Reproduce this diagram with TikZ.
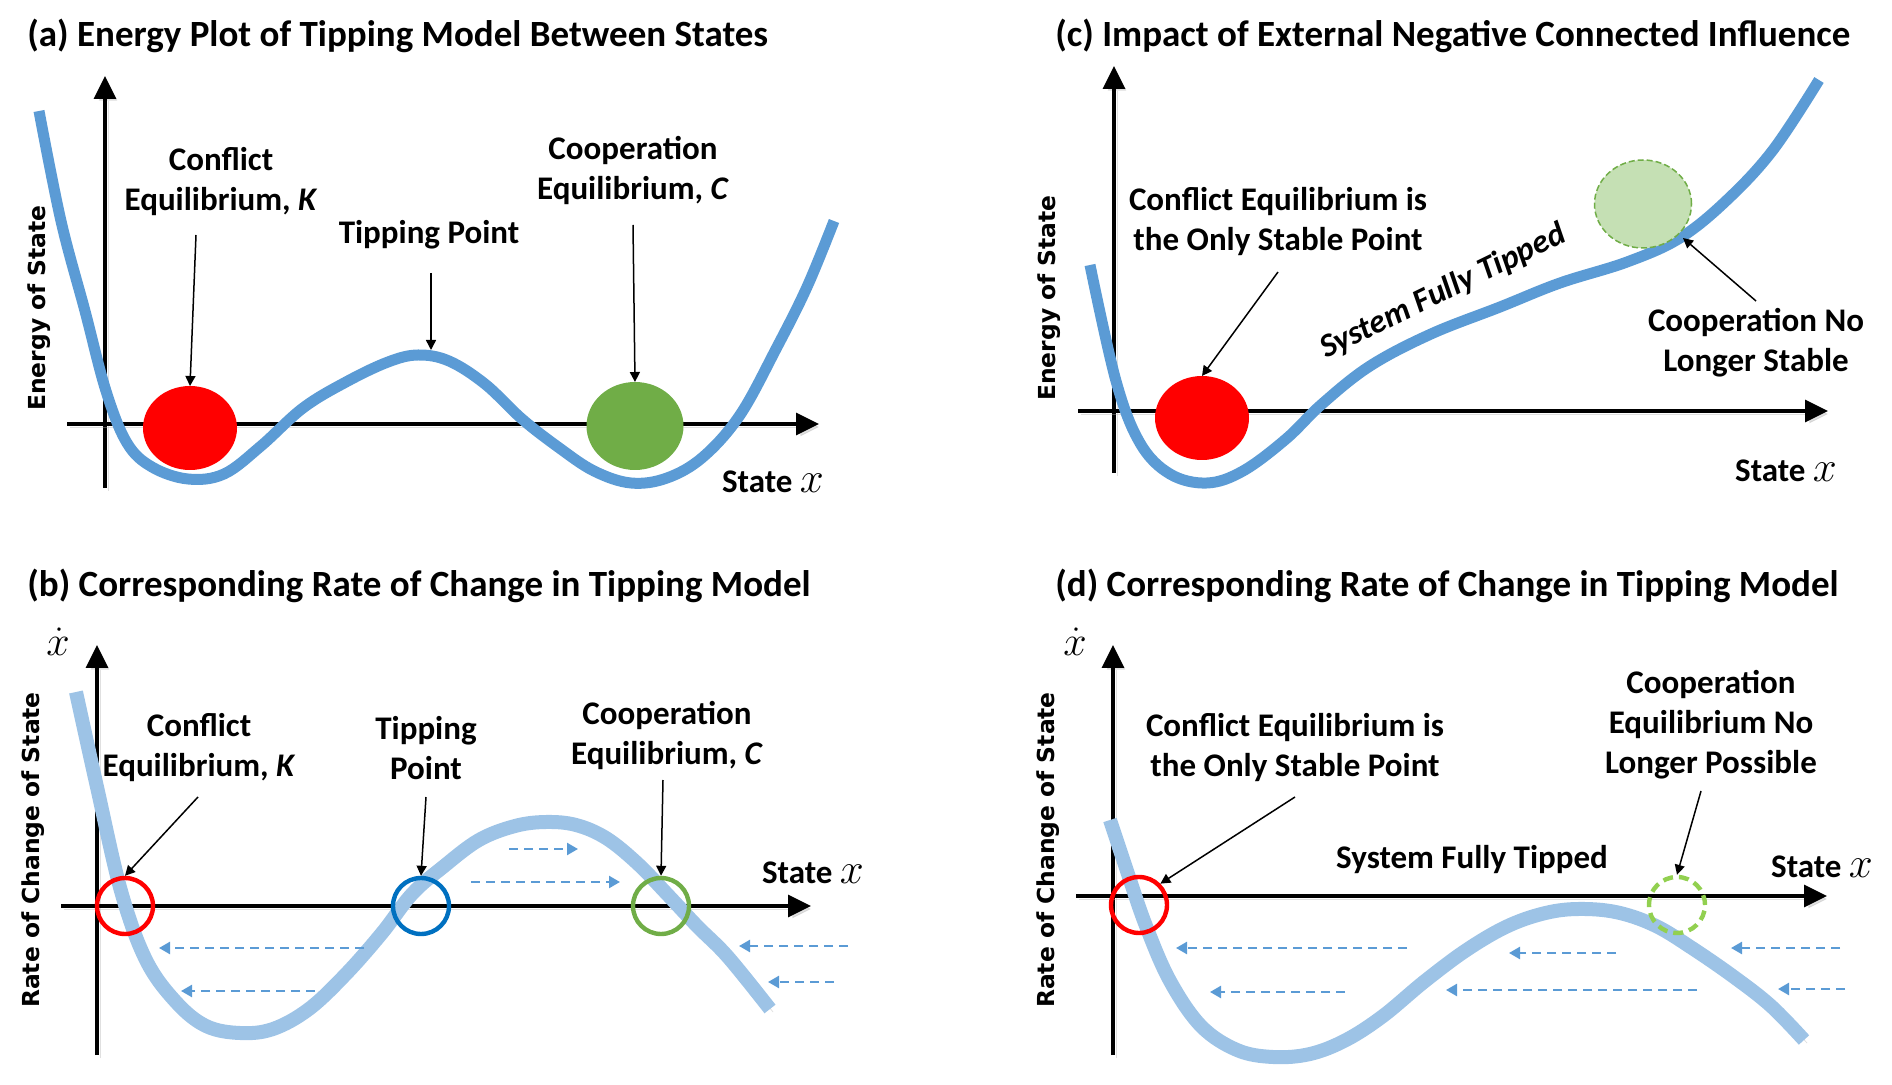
\documentclass[tikz,border=0pt]{standalone}
\usepackage{fix-cm}
\usepackage{fontspec}
\setmainfont{Carlito}
\newfontfamily\axfont{DejaVu Sans}
\usetikzlibrary{arrows.meta,shapes.geometric}

\definecolor{curveblue}{HTML}{5B9BD5}
\definecolor{paleblue}{HTML}{9DC3E6}
\definecolor{ringblue}{HTML}{0070C0}
\definecolor{leafgreen}{HTML}{70AD47}
\definecolor{limegreen}{HTML}{92D050}
\definecolor{palegreen}{HTML}{C5E0B4}

\newcommand{\statex}{{\fontsize{21.5}{21.5}\selectfont$x$}}
\newcommand{\ratex}{{\fontsize{21}{21}\selectfont$\dot{x}$}}

\tikzset{
  softshadow/.style={preaction={draw=black!30,opacity=0.4,transform canvas={shift={(1.5pt,-1.5pt)}}}},
  titletext/.style={anchor=west,inner sep=0pt,font=\fontsize{18.5}{22}\selectfont\bfseries},
  lbl/.style={align=center,inner sep=0pt,font=\fontsize{16.5}{20}\selectfont\bfseries},
  axlbl/.style={rotate=90,inner sep=0pt,font=\axfont\bfseries\fontsize{11.7}{14}\selectfont},
  dotlbl/.style={inner sep=0pt},
  axisline/.style={line width=1.75pt,-{Triangle[length=11.5pt,width=11pt]},softshadow},
  energy/.style={curveblue,line width=5.5pt,softshadow},
  rate/.style={paleblue,line width=7pt,softshadow},
  ball/.style={ellipse,inner sep=0pt,outer sep=0pt,minimum width=47pt,minimum height=42pt},
  ring/.style={circle,draw,line width=2.2pt,inner sep=0pt,minimum size=28pt},
  pointer/.style={line width=0.75pt,-{Triangle[length=5pt,width=5pt]}},
  flow/.style={curveblue,line width=1.2pt,dash pattern=on 4.5pt off 3pt,-{Triangle[length=5.5pt,width=6pt]}}
}

\begin{document}
\begin{tikzpicture}[x=0.5pt,y=-0.5pt]
  \useasboundingbox (0,0) rectangle (1892,1085);

  % (a) energy plot
  \node[titletext] (titleA) at (27,36) {(a) Energy Plot of Tipping Model Between States};
  \node[axlbl] (enA) at (39,308) {Energy of State};
  \draw[axisline] (105,488) -- (105,76);
  \draw[axisline] (67,424) -- (819,424);
  \draw[energy] plot[smooth,tension=0.6] coordinates {(39,111) (61,221) (85,311) (106,391) (127,443) (152,467)
    (188,479) (224,474) (261,446) (303,408) (346,382) (388,362) (418,355) (449,361) (485,384) (522,419) (558,447)
    (594,471) (631,483) (667,478) (703,457) (740,415) (776,349) (807,287) (834,221)};
  \node[ball,fill=red] (kBallA) at (190,428) {};
  \node[ball,fill=leafgreen,minimum width=48.5pt,minimum height=44pt] (cBallA) at (635,426) {};
  \node[lbl] (kLblA) at (221,182) {Conflict\\Equilibrium, \textit{K}};
  \node[lbl] (tLblA) at (429,235) {Tipping Point};
  \node[lbl] (cLblA) at (633,170) {Cooperation\\Equilibrium, \textit{C}};
  \node[lbl] (xLblA) at (773,482) {State \statex};
  \coordinate (kTailA) at (196,235);
  \coordinate (tTailA) at (431,273);
  \coordinate (tTipA) at (431,350);
  \coordinate (cTailA) at (633,225);
  \draw[pointer] (kTailA) -- (kBallA.north);
  \draw[pointer] (tTailA) -- (tTipA);
  \draw[pointer] (cTailA) -- (cBallA.north);

  % (c) external influence
  \node[titletext] (titleC) at (1055,36) {(c) Impact of External Negative Connected Influence};
  \node[axlbl] (enC) at (1049,298) {Energy of State};
  \draw[axisline] (1114,473) -- (1114,66);
  \draw[axisline] (1078,411) -- (1828,411);
  \draw[energy] plot[smooth,tension=0.6] coordinates {(1090,265) (1116,381) (1140,443) (1170,474) (1207,483) (1243,471)
    (1286,439) (1322,404) (1370,366) (1431,334) (1500,307) (1560,283) (1627,262) (1680,238) (1727,200) (1773,150) (1819,80)};
  \node[ball,fill=red] (kBallC) at (1202,418) {};
  \node[ball,fill=palegreen,draw=leafgreen,line width=0.75pt,dash pattern=on 3pt off 1.5pt,
    minimum width=48.5pt,minimum height=44pt] (cBallC) at (1643,204) {};
  \node[lbl] (kLblC) at (1278,222) {Conflict Equilibrium is\\the Only Stable Point};
  \node[lbl,font=\fontsize{16.5}{20}\selectfont\bfseries\itshape,rotate=26] (sysC) at (1443,292) {System Fully Tipped};
  \node[lbl] (cLblC) at (1756,343) {Cooperation No\\Longer Stable};
  \node[lbl] (xLblC) at (1786,471) {State \statex};
  \coordinate (kTailC) at (1278,272);
  \coordinate (cTailC) at (1756,301);
  \coordinate (cTipC) at (1683,238);
  \draw[pointer] (kTailC) -- (kBallC.north);
  \draw[pointer] (cTailC) -- (cTipC);

  % (b) rate of change
  \node[titletext] (titleB) at (27,586) {(b) Corresponding Rate of Change in Tipping Model};
  \node[axlbl] (rtB) at (33,850) {Rate of Change of State};
  \node[dotlbl] (dotB) at (58,642) {\ratex};
  \draw[axisline] (97,1055) -- (97,645);
  \draw[axisline] (61,906) -- (811,906);
  \draw[rate] plot[smooth,tension=0.6] coordinates {(76,692) (97,787) (121,891) (146,960) (176,1002) (206,1026) (240,1033)
    (273,1029) (309,1009) (346,974) (382,933) (412,894) (443,867) (479,840) (515,826) (546,822) (576,825) (606,838)
    (637,863) (667,894) (697,926) (728,957) (770,1009)};
  \foreach \ya/\xa/\xb in {849/509/578, 882/471/620, 948/364/159, 991/315/181, 946/848/739, 982/834/768}
    \draw[flow] (\xa,\ya) -- (\xb,\ya);
  \node[ring,red] (kRingB) at (125,906) {};
  \node[ring,ringblue] (tRingB) at (421,906) {};
  \node[ring,leafgreen] (cRingB) at (661,906) {};
  \node[lbl] (kLblB) at (199,748) {Conflict\\Equilibrium, \textit{K}};
  \node[lbl] (tLblB) at (426,748) {Tipping\\Point};
  \node[lbl] (cLblB) at (667,735) {Cooperation\\Equilibrium, \textit{C}};
  \node[lbl] (xLblB) at (813,873) {State \statex};
  \coordinate (kTailB) at (198,797);
  \coordinate (tTailB) at (426,797);
  \coordinate (cTailB) at (663,780);
  \draw[pointer] (kTailB) -- (kRingB.north);
  \draw[pointer] (tTailB) -- (tRingB.north);
  \draw[pointer] (cTailB) -- (cRingB.north);

  % (d) rate of change, tipped
  \node[titletext] (titleD) at (1055,586) {(d) Corresponding Rate of Change in Tipping Model};
  \node[axlbl] (rtD) at (1048,850) {Rate of Change of State};
  \node[dotlbl] (dotD) at (1075,642) {\ratex};
  \draw[axisline] (1113,1055) -- (1113,645);
  \draw[axisline] (1076,896) -- (1827,896);
  \draw[rate] plot[smooth,tension=0.6] coordinates {(1110,820) (1128,874) (1146,926) (1170,981) (1201,1026) (1237,1050)
    (1273,1057) (1310,1054) (1346,1040) (1383,1016) (1425,981) (1468,949) (1510,925) (1550,912) (1585,909) (1620,913)
    (1656,926) (1692,948) (1734,977) (1771,1006) (1804,1040)};
  \foreach \ya/\xa/\xb in {948/1407/1176, 953/1616/1509, 948/1840/1731, 992/1345/1210, 990/1697/1446, 989/1845/1778}
    \draw[flow] (\xa,\ya) -- (\xb,\ya);
  \node[ring,red] (kRingD) at (1139,905) {};
  \node[ring,limegreen,dash pattern=on 5pt off 3pt] (cRingD) at (1677,905) {};
  \node[lbl] (kLblD) at (1295,748) {Conflict Equilibrium is\\the Only Stable Point};
  \node[lbl] (sysD) at (1472,860) {System Fully Tipped};
  \node[lbl] (cLblD) at (1711,725) {Cooperation\\Equilibrium No\\Longer Possible};
  \node[lbl] (xLblD) at (1822,867) {State \statex};
  \coordinate (kTailD) at (1295,797);
  \coordinate (cTailD) at (1701,791);
  \draw[pointer] (kTailD) -- (kRingD.north east);
  \draw[pointer] (cTailD) -- (cRingD.north);
\end{tikzpicture}
\end{document}
